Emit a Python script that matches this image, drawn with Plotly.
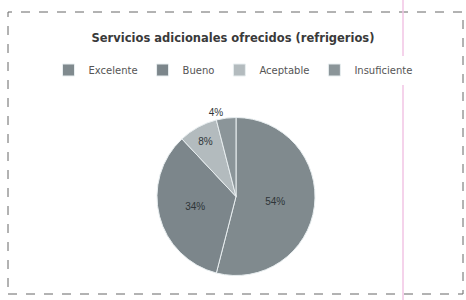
import plotly.graph_objects as go

categories = ["Excelente", "Bueno", "Aceptable", "Insuficiente"]
values = [54, 34, 8, 4]
colors = ["#808a8e", "#7c868b", "#b3bbbe", "#8b9599"]
positions = ["inside", "inside", "inside", "outside"]

fig = go.Figure(go.Pie(
    labels=categories, values=values, sort=False, direction="clockwise", rotation=0,
    marker=dict(colors=colors, line=dict(color="#e8eef0", width=1)),
    textinfo="percent", texttemplate="%{percent:.0%}", textposition=positions,
    insidetextorientation="horizontal",
    textfont=dict(family="Liberation Sans, Arial", size=10, color="#2e3538"),
    domain=dict(x=[157/466, 315/466], y=[1-276/300, 1-117/300]),
    showlegend=True,
))

fig.update_layout(
    width=466, height=300, margin=dict(l=0, r=0, t=0, b=0),
    paper_bgcolor="white", plot_bgcolor="white",
    title=dict(text="<b>Servicios adicionales ofrecidos (refrigerios)</b>", x=0.5, xanchor="center",
               y=1-38/300, yanchor="middle",
               font=dict(family="DejaVu Sans, Verdana", size=11.5, color="#3a3a3a")),
    legend=dict(orientation="h", x=0.5, xanchor="center", y=1-70/300, yanchor="middle",
                font=dict(family="DejaVu Sans, Verdana", size=10, color="#555555"),
                itemwidth=30, traceorder="normal", itemclick=False),
    shapes=[
        dict(type="rect", xref="paper", yref="paper", x0=8/466, x1=463/466, y0=1-294/300, y1=1-12/300,
             line=dict(color="#666666", width=1, dash="dash")),
        dict(type="line", xref="paper", yref="paper", x0=403/466, x1=403/466, y0=0, y1=1,
             line=dict(color="#f2c4e4", width=1.5)),
    ],
)

fig.write_html("out.html", config={"displayModeBar": False},
               post_script="document.body.style.margin='0';document.body.style.overflow='hidden';")
